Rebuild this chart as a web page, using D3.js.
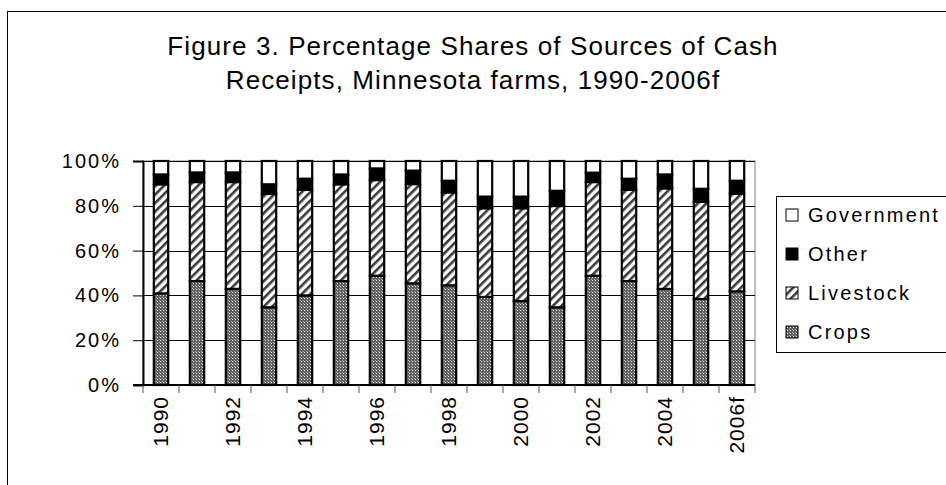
<!DOCTYPE html>
<html>
<head>
<meta charset="utf-8">
<script src="https://cdn.jsdelivr.net/npm/d3@7"></script>
<style>
  body { margin: 0; background: #fff; }
  text { font-family: "Liberation Sans", Arial, sans-serif; fill: #000; }
</style>
</head>
<body>
<svg width="946" height="485"></svg>
<script>
var years = ["1990","1991","1992","1993","1994","1995","1996","1997","1998",
             "1999","2000","2001","2002","2003","2004","2005","2006f"];
var shownLabels = ["1990","1992","1994","1996","1998","2000","2002","2004","2006f"];

// percentage shares
var crops      = [40.9, 46.4, 42.9, 34.7, 40.0, 46.4, 48.8, 45.4, 44.5, 39.3, 37.5, 34.7, 48.8, 46.4, 42.9, 38.4, 41.8];
var livestock  = [48.7, 44.2, 47.7, 50.6, 47.1, 43.2, 42.7, 44.3, 41.5, 39.6, 41.4, 45.2, 41.8, 40.7, 44.9, 43.4, 43.6];
var other      = [ 4.4,  4.3,  4.3,  4.3,  5.0,  4.4,  5.2,  6.0,  5.2,  5.2,  5.2,  6.8,  4.2,  5.0,  6.2,  5.8,  5.8];
var government = [ 6.0,  5.1,  5.1, 10.4,  7.9,  6.0,  3.3,  4.3,  8.8, 15.9, 15.9, 13.3,  5.2,  7.9,  6.0, 12.4,  8.8];

var seriesNames = ["Crops", "Livestock", "Other", "Government"];
var yTicks = [0, 20, 40, 60, 80, 100];

var svg = d3.select("svg"),
    plotL = 143, plotR = 755, plotT = 161, plotB = 385;

var defs = svg.append("defs");
var crossPat = defs.append("pattern").attr("id", "pCrops")
  .attr("width", 3).attr("height", 3).attr("patternUnits", "userSpaceOnUse");
crossPat.append("rect").attr("width", 3).attr("height", 3).attr("fill", "#5f5f5f");
crossPat.append("rect").attr("x", 1).attr("y", 1).attr("width", 1).attr("height", 1).attr("fill", "#e8e8e8");
crossPat.append("rect").attr("x", 0).attr("y", 0).attr("width", 1).attr("height", 1).attr("fill", "#a8a8a8");

var stripePat = defs.append("pattern").attr("id", "pLive")
  .attr("width", 6).attr("height", 6).attr("patternUnits", "userSpaceOnUse")
  .attr("patternTransform", "rotate(45)");
stripePat.append("rect").attr("width", 6).attr("height", 6).attr("fill", "#fff");
stripePat.append("rect").attr("x", 0).attr("width", 2.6).attr("height", 6).attr("fill", "#3a3a3a");

var fills = { Crops: "url(#pCrops)", Livestock: "url(#pLive)", Other: "#000", Government: "#fff" };

var table = years.map(function(yr, i) {
  return { year: yr, Crops: crops[i], Livestock: livestock[i], Other: other[i], Government: government[i] };
});

var x = d3.scaleBand().domain(years).range([plotL, plotR]).paddingInner(0.6).paddingOuter(0.3);
var y = d3.scaleLinear().domain([0, 100]).range([plotB, plotT]);

// outer chart border
svg.append("rect").attr("x", 7.5).attr("y", 11.5).attr("width", 980).attr("height", 500)
  .attr("fill", "none").attr("stroke", "#000").attr("stroke-width", 1);

// title
var title = svg.append("text").attr("text-anchor", "middle")
  .style("font-size", "26px").style("letter-spacing", "1.1px");
title.append("tspan").attr("x", 473).attr("y", 55).text("Figure 3. Percentage Shares of Sources of Cash");
title.append("tspan").attr("x", 473).attr("y", 89).text("Receipts, Minnesota farms, 1990-2006f");

// plot area border + gridlines
svg.append("rect").attr("x", plotL).attr("y", plotT).attr("width", plotR - plotL).attr("height", plotB - plotT)
  .attr("fill", "none").attr("stroke", "#808080").attr("stroke-width", 1);
svg.selectAll(".grid").data(yTicks).enter().append("line")
  .attr("x1", plotL).attr("x2", plotR)
  .attr("y1", function(d) { return Math.round(y(d)) + 0.5; })
  .attr("y2", function(d) { return Math.round(y(d)) + 0.5; })
  .attr("stroke", "#000").attr("stroke-width", 1.2);

// stacked bars
var stack = d3.stack().keys(seriesNames)(table);
svg.append("g").selectAll("g").data(stack).enter().append("g")
  .attr("fill", function(d) { return fills[d.key]; })
  .selectAll("rect").data(function(d) { return d; }).enter().append("rect")
  .attr("x", function(d) { return x(d.data.year); })
  .attr("width", x.bandwidth())
  .attr("y", function(d) { return y(d[1]); })
  .attr("height", function(d) { return y(d[0]) - y(d[1]); })
  .attr("stroke", "#000").attr("stroke-width", 2.2);

// y axis
var yAxis = svg.append("g").attr("transform", "translate(" + plotL + ",0)")
  .call(d3.axisLeft(y).tickValues(yTicks).tickFormat(function(d) { return d + "%"; }).tickSize(10).tickPadding(12));
yAxis.select(".domain").attr("stroke-width", 2);
yAxis.selectAll("text").style("font-size", "20px").style("letter-spacing", "2px")
  .attr("font-family", null);

// x axis line + ticks at category boundaries
var step = x.step();
var bounds = years.map(function(d) { return x(d) - step * 0.3; }).concat([plotR]);
svg.append("line").attr("x1", plotL - 10).attr("x2", plotR).attr("y1", plotB).attr("y2", plotB)
  .attr("stroke", "#000").attr("stroke-width", 2);
svg.selectAll(".xt").data(bounds).enter().append("line")
  .attr("x1", function(d) { return d; }).attr("x2", function(d) { return d; })
  .attr("y1", plotB).attr("y2", plotB + 8)
  .attr("stroke", "#555").attr("stroke-width", 1);
svg.selectAll(".xl").data(shownLabels).enter().append("text")
  .attr("transform", function(d) { return "translate(" + (x(d) + x.bandwidth() / 2) + "," + (plotB + 11) + ") rotate(-90)"; })
  .attr("text-anchor", "end").attr("dy", "0.35em")
  .style("font-size", "21px").style("letter-spacing", "1px")
  .text(function(d) { return d; });

// legend
var legend = svg.append("g");
legend.append("rect").attr("x", 776.5).attr("y", 196.5).attr("width", 200).attr("height", 156)
  .attr("fill", "#fff").attr("stroke", "#000");
var legendOrder = ["Government", "Other", "Livestock", "Crops"];
var items = legend.selectAll(".li").data(legendOrder).enter().append("g")
  .attr("transform", function(d, i) { return "translate(786," + (215 + i * 39) + ")"; });
items.append("rect").attr("x", 0).attr("y", -6).attr("width", 12).attr("height", 12)
  .attr("fill", function(d) { return fills[d]; }).attr("stroke", "#000").attr("stroke-width", 1);
items.append("text").attr("x", 22).attr("dy", "0.35em")
  .style("font-size", "20px").style("letter-spacing", "2.2px")
  .text(function(d) { return d; });
</script>
</body>
</html>
